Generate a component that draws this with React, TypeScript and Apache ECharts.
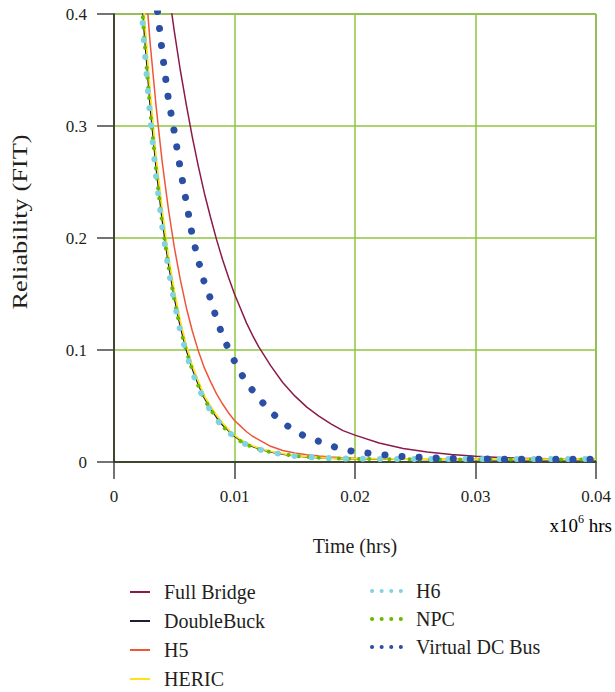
import React, { useEffect, useRef } from "react";
import * as echarts from "echarts";

// time in x10^6 hrs
const times = [
  0.002, 0.0025, 0.003, 0.0035, 0.004, 0.0045, 0.005, 0.0055, 0.006, 0.0065,
  0.007, 0.0075, 0.008, 0.0085, 0.009, 0.0095, 0.01, 0.0105, 0.011, 0.0115,
  0.012, 0.013, 0.014, 0.015, 0.016, 0.017, 0.018, 0.019, 0.02, 0.022, 0.024,
  0.026, 0.028, 0.03, 0.032, 0.034, 0.036, 0.038, 0.04,
];

const fullBridge = [
  0.678, 0.617, 0.562, 0.511, 0.465, 0.423, 0.385, 0.35, 0.319, 0.29, 0.264,
  0.24, 0.219, 0.199, 0.181, 0.165, 0.15, 0.137, 0.124, 0.113, 0.103, 0.086,
  0.071, 0.059, 0.049, 0.041, 0.034, 0.028, 0.024, 0.017, 0.012, 0.009, 0.0068,
  0.0052, 0.004, 0.0033, 0.0028, 0.0025, 0.0024,
];

const doubleBuck = [
  0.467, 0.385, 0.318, 0.262, 0.216, 0.178, 0.147, 0.121, 0.1, 0.083, 0.069,
  0.057, 0.048, 0.04, 0.033, 0.028, 0.023, 0.019, 0.016, 0.0138, 0.0118, 0.009,
  0.007, 0.0055, 0.0045, 0.0038, 0.0033, 0.003, 0.0028, 0.0025, 0.0024, 0.0023,
  0.0022, 0.0022, 0.0021, 0.0021, 0.0021, 0.002, 0.002,
];

const h5 = [
  0.522, 0.442, 0.374, 0.317, 0.268, 0.227, 0.192, 0.163, 0.138, 0.117, 0.099,
  0.084, 0.072, 0.061, 0.052, 0.044, 0.037, 0.032, 0.027, 0.023, 0.02, 0.014,
  0.0102, 0.008, 0.0065, 0.0053, 0.0044, 0.0037, 0.0033, 0.0028, 0.0026, 0.0025,
  0.0024, 0.0023, 0.0023, 0.0022, 0.0022, 0.0022, 0.0022,
];

const heric = [
  0.485, 0.4, 0.33, 0.272, 0.225, 0.185, 0.153, 0.126, 0.104, 0.086, 0.072,
  0.059, 0.05, 0.042, 0.035, 0.029, 0.024, 0.02, 0.017, 0.0145, 0.0124, 0.0095,
  0.0074, 0.0058, 0.0048, 0.004, 0.0035, 0.0032, 0.003, 0.0028, 0.0027, 0.0027,
  0.0026, 0.0026, 0.0026, 0.0026, 0.0026, 0.0026, 0.0026,
];

const h6 = [
  0.453, 0.373, 0.308, 0.254, 0.21, 0.173, 0.143, 0.117, 0.097, 0.08, 0.067,
  0.055, 0.046, 0.038, 0.032, 0.027, 0.022, 0.0185, 0.0155, 0.0133, 0.0114,
  0.0087, 0.0068, 0.0054, 0.0045, 0.0038, 0.0034, 0.0031, 0.0029, 0.0027,
  0.0027, 0.0026, 0.0026, 0.0026, 0.0026, 0.0026, 0.0026, 0.0026, 0.0026,
];

const npc = [
  0.46, 0.38, 0.314, 0.259, 0.213, 0.176, 0.145, 0.119, 0.099, 0.082, 0.068,
  0.056, 0.047, 0.039, 0.032, 0.027, 0.0225, 0.0185, 0.0155, 0.0134, 0.0115,
  0.0088, 0.0069, 0.0054, 0.0045, 0.0038, 0.0033, 0.003, 0.0028, 0.0025,
  0.0024, 0.0023, 0.0023, 0.0022, 0.0022, 0.0022, 0.0022, 0.0022, 0.0022,
];

const virtualDcBus = [
  0.6, 0.53, 0.47, 0.413, 0.366, 0.325, 0.295, 0.262, 0.232, 0.202, 0.18, 0.16,
  0.146, 0.128, 0.113, 0.101, 0.09, 0.08, 0.0705, 0.064, 0.057, 0.045, 0.035,
  0.028, 0.022, 0.0185, 0.0145, 0.0112, 0.0092, 0.0068, 0.0048, 0.0038, 0.0031,
  0.0027, 0.0025, 0.0024, 0.0024, 0.0024, 0.0024,
];

const leftLegend = ["Full Bridge", "DoubleBuck", "H5", "HERIC"];
const rightLegend = ["H6", "NPC", "Virtual DC Bus"];

const SERIF = "Liberation Serif";
const GREEN = "#8cc63e";
const INK = "#231f20";

const pairs = (vals: number[]) => times.map((t, i) => [t, vals[i]]);

export default function App() {
  const ref = useRef<HTMLDivElement>(null);
  useEffect(() => {
    document.body.style.margin = "0";
    const chart = echarts.init(ref.current!, undefined, { renderer: "svg" });

    const solid = (name: string, vals: number[], color: string, width: number, z: number) => ({
      name,
      type: "line",
      data: pairs(vals),
      showSymbol: false,
      symbol: "none",
      z,
      lineStyle: { color, width },
      itemStyle: { color },
    });
    const dotted = (
      name: string,
      vals: number[],
      color: string,
      width: number,
      gap: number,
      z: number
    ) => ({
      name,
      type: "line",
      data: pairs(vals),
      showSymbol: false,
      symbol: "none",
      z,
      lineStyle: { color, width, type: [0.1, gap], cap: "round" },
      itemStyle: { color },
    });

    const legendText = {
      fontFamily: SERIF,
      fontSize: 20,
      color: INK,
    };

    chart.setOption({
      animation: false,
      backgroundColor: "#ffffff",
      textStyle: { fontFamily: SERIF },
      grid: {
        left: 114,
        right: 19,
        top: 14,
        bottom: 230,
        show: true,
        borderColor: "#5a5a5a",
        borderWidth: 1,
      },
      xAxis: {
        type: "value",
        min: 0,
        max: 0.04,
        interval: 0.01,
        name: "Time (hrs)",
        nameLocation: "middle",
        nameGap: 74,
        nameTextStyle: { fontFamily: SERIF, fontSize: 20, color: INK },
        axisLine: { show: true, onZero: false, lineStyle: { color: INK, width: 1.5 } },
        axisTick: { show: true, inside: false, length: 17, lineStyle: { color: "#444", width: 1.5 } },
        axisLabel: {
          margin: 26,
          fontFamily: SERIF,
          fontSize: 17,
          color: INK,
          formatter: (v: number) => (v === 0 ? "0" : String(Number(v.toFixed(2)))),
        },
        splitLine: { show: true, lineStyle: { color: GREEN, width: 1.5 } },
      },
      yAxis: {
        type: "value",
        min: 0,
        max: 0.4,
        interval: 0.1,
        axisLine: { show: true, onZero: false, lineStyle: { color: INK, width: 1.5 } },
        axisTick: { show: true, inside: false, length: 17, lineStyle: { color: "#444", width: 1.5 } },
        axisLabel: {
          margin: 27,
          fontFamily: SERIF,
          fontSize: 17,
          color: INK,
          formatter: (v: number) => (v === 0 ? "0" : String(Number(v.toFixed(1)))),
        },
        splitLine: { show: true, lineStyle: { color: GREEN, width: 1.5 } },
      },
      legend: [
        {
          orient: "vertical",
          left: 129,
          top: 582,
          padding: 0,
          itemWidth: 20,
          itemHeight: 14,
          itemGap: 9,
          itemStyle: { opacity: 0 },
          data: leftLegend.map((n) => ({ name: n, lineStyle: { width: 2 } })),
          textStyle: { ...legendText, padding: [0, 0, 0, 9] },
        },
        {
          orient: "vertical",
          left: 370,
          top: 581,
          padding: 0,
          itemWidth: 34,
          itemHeight: 14,
          itemGap: 8,
          itemStyle: { opacity: 0 },
          data: rightLegend.map((n) => ({
            name: n,
            lineStyle: { width: 4, type: [0.1, 9.5], cap: "round" },
          })),
          textStyle: { ...legendText, padding: [0, 0, 0, 5] },
        },
      ],
      graphic: [
        {
          type: "text",
          x: 20,
          y: 222,
          rotation: Math.PI / 2,
          scaleX: 1.32,
          style: {
            text: "Reliability (FIT)",
            fontFamily: SERIF,
            fontSize: 20,
            fill: INK,
            align: "center",
            verticalAlign: "middle",
          },
        },
        {
          type: "text",
          right: 3,
          top: 513,
          style: {
            text: "{a|x10}{s|6}{a| hrs}",
            rich: {
              a: { fontFamily: SERIF, fontSize: 19, color: INK, lineHeight: 22, verticalAlign: "bottom" },
              s: { fontFamily: SERIF, fontSize: 12, color: INK, lineHeight: 22, verticalAlign: "top" },
            },
          },
        },
      ],
      series: [
        solid("Full Bridge", fullBridge, "#8b1a4c", 1.5, 2),
        solid("H5", h5, "#f0553a", 1.5, 3),
        solid("DoubleBuck", doubleBuck, "#1e1e3c", 1.5, 4),
        solid("HERIC", heric, "#ffe11a", 1.8, 5),
        dotted("NPC", npc, "#66bb00", 4, 10, 6),
        dotted("H6", h6, "#80d4e2", 6, 17, 7),
        dotted("Virtual DC Bus", virtualDcBus, "#2c4fa6", 7, 17, 8),
      ],
    });
    return () => chart.dispose();
  }, []);
  return <div ref={ref} style={{ width: 615, height: 692 }} />;
}
